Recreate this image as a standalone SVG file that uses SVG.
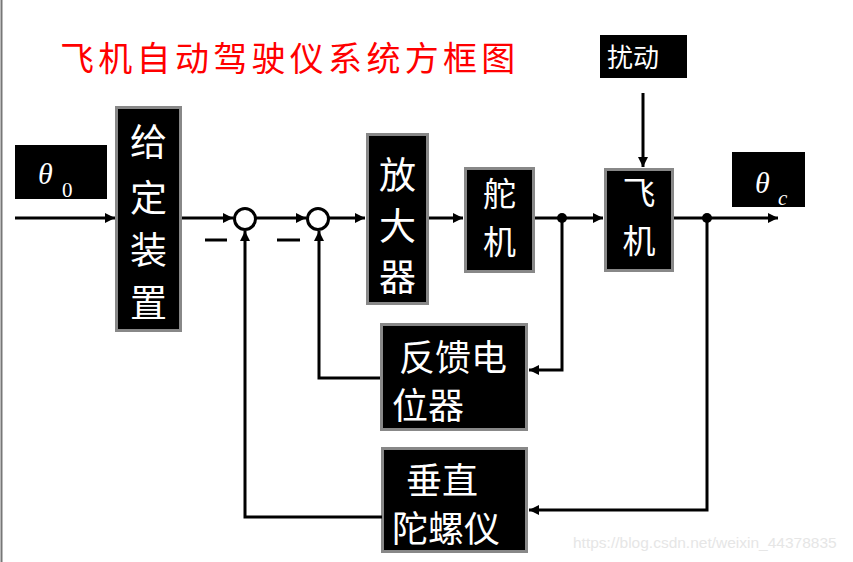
<svg xmlns="http://www.w3.org/2000/svg" width="853" height="562" viewBox="0 0 853 562">
<defs>
<marker id="ah" viewBox="0 0 10 10" refX="10" refY="5" markerWidth="12" markerHeight="10" markerUnits="userSpaceOnUse" orient="auto">
<path d="M0,0 L10,5 L0,10 Z" fill="#000"/>
</marker>
</defs>
<style>
.blk{fill:#000;stroke:#888;stroke-width:3}
.cj{font-family:"Noto Sans CJK SC","Noto Sans",sans-serif;fill:#fff}
.big{font-size:37px}
.sm{font-size:33px}
.mid{font-size:36px}
.ln{fill:none;stroke:#000;stroke-width:3}
.gr{font-family:"Liberation Serif","DejaVu Serif",serif;font-style:italic;fill:#fff}
</style>
<rect x="0" y="0" width="853" height="562" fill="#fff"/>
<line x1="1.5" y1="0" x2="1.5" y2="562" stroke="#777" stroke-width="2"/>
<text x="60" y="71" font-family="'Noto Sans CJK SC',sans-serif" font-size="34" letter-spacing="4.3" fill="#f00">飞机自动驾驶仪系统方框图</text>

<g id="theta0">
<rect x="15" y="145" width="92" height="54" fill="#000"/>
<text x="38" y="184" class="gr" font-size="30">θ</text>
<text x="62" y="197" font-family="'Liberation Serif',serif" font-size="21" fill="#fff">0</text>
</g>
<g id="gdzz">
<rect class="blk" x="116.5" y="107.5" width="64" height="223"/>
<text class="cj big" x="148.5" y="156" text-anchor="middle">给</text>
<text class="cj big" x="148.5" y="212" text-anchor="middle">定</text>
<text class="cj big" x="148.5" y="264" text-anchor="middle">装</text>
<text class="cj big" x="148.5" y="317" text-anchor="middle">置</text>
</g>
<g id="sum1"><circle cx="245" cy="219" r="10.5" fill="#fff" stroke="#000" stroke-width="3"/></g>
<g id="sum2"><circle cx="318" cy="219" r="10.5" fill="#fff" stroke="#000" stroke-width="3"/></g>
<g id="minus">
<line x1="205" y1="240" x2="227" y2="240" stroke="#000" stroke-width="3"/>
<line x1="277" y1="240" x2="300" y2="240" stroke="#000" stroke-width="3"/>
</g>
<g id="fdq">
<rect class="blk" x="367.5" y="134.5" width="60" height="169"/>
<text class="cj big" x="397.5" y="189" text-anchor="middle">放</text>
<text class="cj big" x="397.5" y="240" text-anchor="middle">大</text>
<text class="cj big" x="397.5" y="291" text-anchor="middle">器</text>
</g>
<g id="dj">
<rect class="blk" x="465.5" y="168.5" width="68" height="103"/>
<text class="cj sm" x="499.5" y="206" text-anchor="middle">舵</text>
<text class="cj sm" x="499.5" y="254" text-anchor="middle">机</text>
</g>
<g id="fj">
<rect class="blk" x="605.5" y="169.5" width="67" height="101"/>
<text class="cj sm" x="639" y="205" text-anchor="middle">飞</text>
<text class="cj sm" x="639" y="253" text-anchor="middle">机</text>
</g>
<g id="raodong">
<rect x="600" y="35" width="87" height="43" fill="#000"/>
<text class="cj" x="607" y="67" font-size="26">扰动</text>
</g>
<g id="thetac">
<rect x="732" y="152" width="73" height="55" fill="#000"/>
<text x="755" y="193" class="gr" font-size="30">θ</text>
<text x="778" y="205" class="gr" font-size="21">c</text>
</g>
<g id="fkdwq">
<rect class="blk" x="381.5" y="324.5" width="145" height="105"/>
<text class="cj mid" x="399" y="371">反馈电</text>
<text class="cj mid" x="392" y="419">位器</text>
</g>
<g id="czltly">
<rect class="blk" x="382.5" y="448.5" width="144" height="103"/>
<text class="cj mid" x="406" y="494">垂直</text>
<text class="cj mid" x="392" y="542">陀螺仪</text>
</g>

<g id="connectors">
<line class="ln" x1="15" y1="218" x2="115" y2="218" marker-end="url(#ah)"/>
<line class="ln" x1="182" y1="218" x2="233" y2="218" marker-end="url(#ah)"/>
<line class="ln" x1="256" y1="218" x2="306" y2="218" marker-end="url(#ah)"/>
<line class="ln" x1="329" y1="218" x2="365" y2="218" marker-end="url(#ah)"/>
<line class="ln" x1="429" y1="218" x2="463" y2="218" marker-end="url(#ah)"/>
<line class="ln" x1="535" y1="218" x2="603" y2="218" marker-end="url(#ah)"/>
<line class="ln" x1="674" y1="218" x2="778" y2="218" marker-end="url(#ah)"/>
<line class="ln" x1="643" y1="93" x2="643" y2="167" marker-end="url(#ah)"/>
<polyline class="ln" points="562,218 562,370 529,370" marker-end="url(#ah)"/>
<polyline class="ln" points="707,218 707,510 529,510" marker-end="url(#ah)"/>
<polyline class="ln" points="380,378 319,378 319,231" marker-end="url(#ah)"/>
<polyline class="ln" points="382,517 245,517 245,231" marker-end="url(#ah)"/>
<circle cx="562" cy="218" r="5" fill="#000"/>
<circle cx="707" cy="218" r="5" fill="#000"/>
</g>
<text x="573" y="548" font-family="'Liberation Sans',sans-serif" font-size="15.5" fill="#e6e6e6">https://blog.csdn.net/weixin_44378835</text>
</svg>
